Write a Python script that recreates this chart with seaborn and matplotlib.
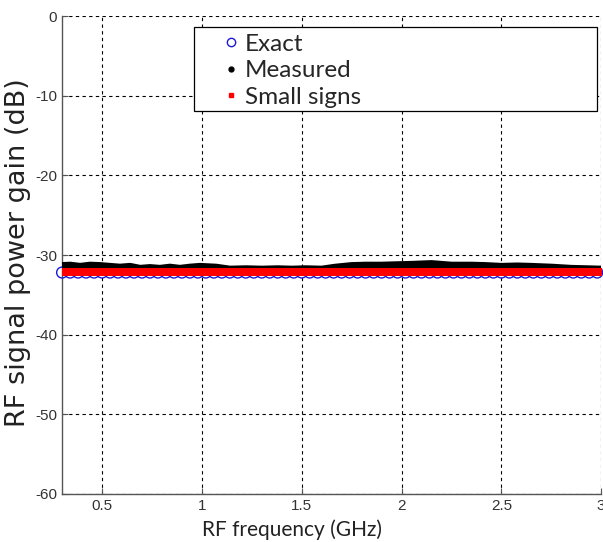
import numpy as np
import pandas as pd
import seaborn as sns
import matplotlib.pyplot as plt
from matplotlib.lines import Line2D
from matplotlib.patches import Rectangle

# sweep grids (GHz)
freq_exact = np.round(np.arange(0.30, 3.001, 0.04), 2)
freq_small = np.round(np.arange(0.30, 3.001, 0.01), 2)

# exact and small-signal gain are flat (dB)
exact_gain = [-32.2] * len(freq_exact)
small_gain = [-32.1] * len(freq_small)

# measured gain (dB)
freq_meas = [0.30, 0.34, 0.39, 0.44, 0.49, 0.54, 0.59, 0.64, 0.69, 0.74, 0.79, 0.84,
             0.89, 0.94, 0.99, 1.07, 1.14, 1.22, 1.30, 1.38, 1.45, 1.52, 1.60, 1.67,
             1.75, 1.82, 1.90, 1.97, 2.05, 2.10, 2.15, 2.20, 2.25, 2.35, 2.42, 2.50,
             2.58, 2.65, 2.75, 2.85, 2.93, 3.00]
meas_gain = [-31.5, -31.45, -31.6, -31.45, -31.5, -31.6, -31.7, -31.6, -31.85, -31.75, -31.85, -31.7,
             -31.85, -31.7, -31.6, -31.7, -31.95, -31.9, -31.95, -31.9, -31.95, -31.9, -31.95, -31.7,
             -31.5, -31.45, -31.45, -31.4, -31.35, -31.3, -31.25, -31.35, -31.45, -31.45, -31.5, -31.6,
             -31.55, -31.6, -31.7, -31.85, -31.9, -31.95]

xticks = [0.5, 1, 1.5, 2, 2.5, 3]
xtick_labels = ['0.5', '1', '1.5', '2', '2.5', '3']
yticks = [-60, -50, -40, -30, -20, -10, 0]

sns.set_style("ticks")
plt.rcParams['font.family'] = ['Lato', 'DejaVu Sans']
plt.rcParams['axes.unicode_minus'] = False

fig, ax = plt.subplots(figsize=(6.03, 5.42), dpi=100)
fig.subplots_adjust(left=0.103, right=0.997, bottom=0.089, top=0.970)

sns.scatterplot(x=freq_exact, y=exact_gain, marker='o', s=62, fc='none', ec='#1a1ad6',
                linewidth=1.0, ax=ax, zorder=3, clip_on=False)
sns.lineplot(x=freq_meas, y=meas_gain, color='black', lw=7, estimator=None,
             solid_capstyle='butt', ax=ax, zorder=4)
sns.scatterplot(x=freq_small, y=small_gain, marker='s', s=34, color='red', linewidth=0,
                ax=ax, zorder=5)

ax.set_xlim(0.3, 3.0)
ax.set_ylim(-60, 0)
ax.set_xticks(xticks, labels=xtick_labels)
ax.set_yticks(yticks)
for lab in ax.get_xticklabels() + ax.get_yticklabels():
    lab.set_fontfamily('Liberation Sans')
ax.tick_params(axis='both', direction='in', length=4, labelsize=11, labelcolor='#333333', colors='#555555')

ax.grid(True, color='black', linestyle=(0, (3, 3)), linewidth=0.8)
sns.despine(ax=ax, top=True, right=True)
for s in ['left', 'bottom']:
    ax.spines[s].set_color('#555555')
    ax.spines[s].set_linewidth(1.0)

ax.set_xlabel('RF frequency (GHz)', fontsize=15, color='#222222')
ax.set_ylabel('RF signal power gain (dB)', fontsize=19.5, color='#222222', family='DejaVu Sans')
ax.xaxis.set_label_coords(0.427, -0.054)
ax.yaxis.set_label_coords(-0.058, 0.504)

# legend frame
ax.add_patch(Rectangle((0.245, 0.801), 0.748, 0.176, transform=ax.transAxes,
                       fc='white', ec='black', lw=0.9, zorder=10))
handles = [
    Line2D([], [], marker='o', ls='none', mfc='none', mec='#1a1ad6', ms=6, mew=1.0),
    Line2D([], [], marker='o', ls='none', color='black', ms=3.5),
    Line2D([], [], marker='s', ls='none', color='red', ms=3.5),
]
leg = ax.legend(handles, ['Exact', 'Measured', 'Small signs'], loc='upper left',
                bbox_to_anchor=(0.296, 0.963), frameon=False, fontsize=17.5,
                handlelength=0.8, handletextpad=0.15, labelspacing=0.22,
                borderpad=0, borderaxespad=0)
leg.set_zorder(11)

plt.savefig('out.png', dpi=100)
